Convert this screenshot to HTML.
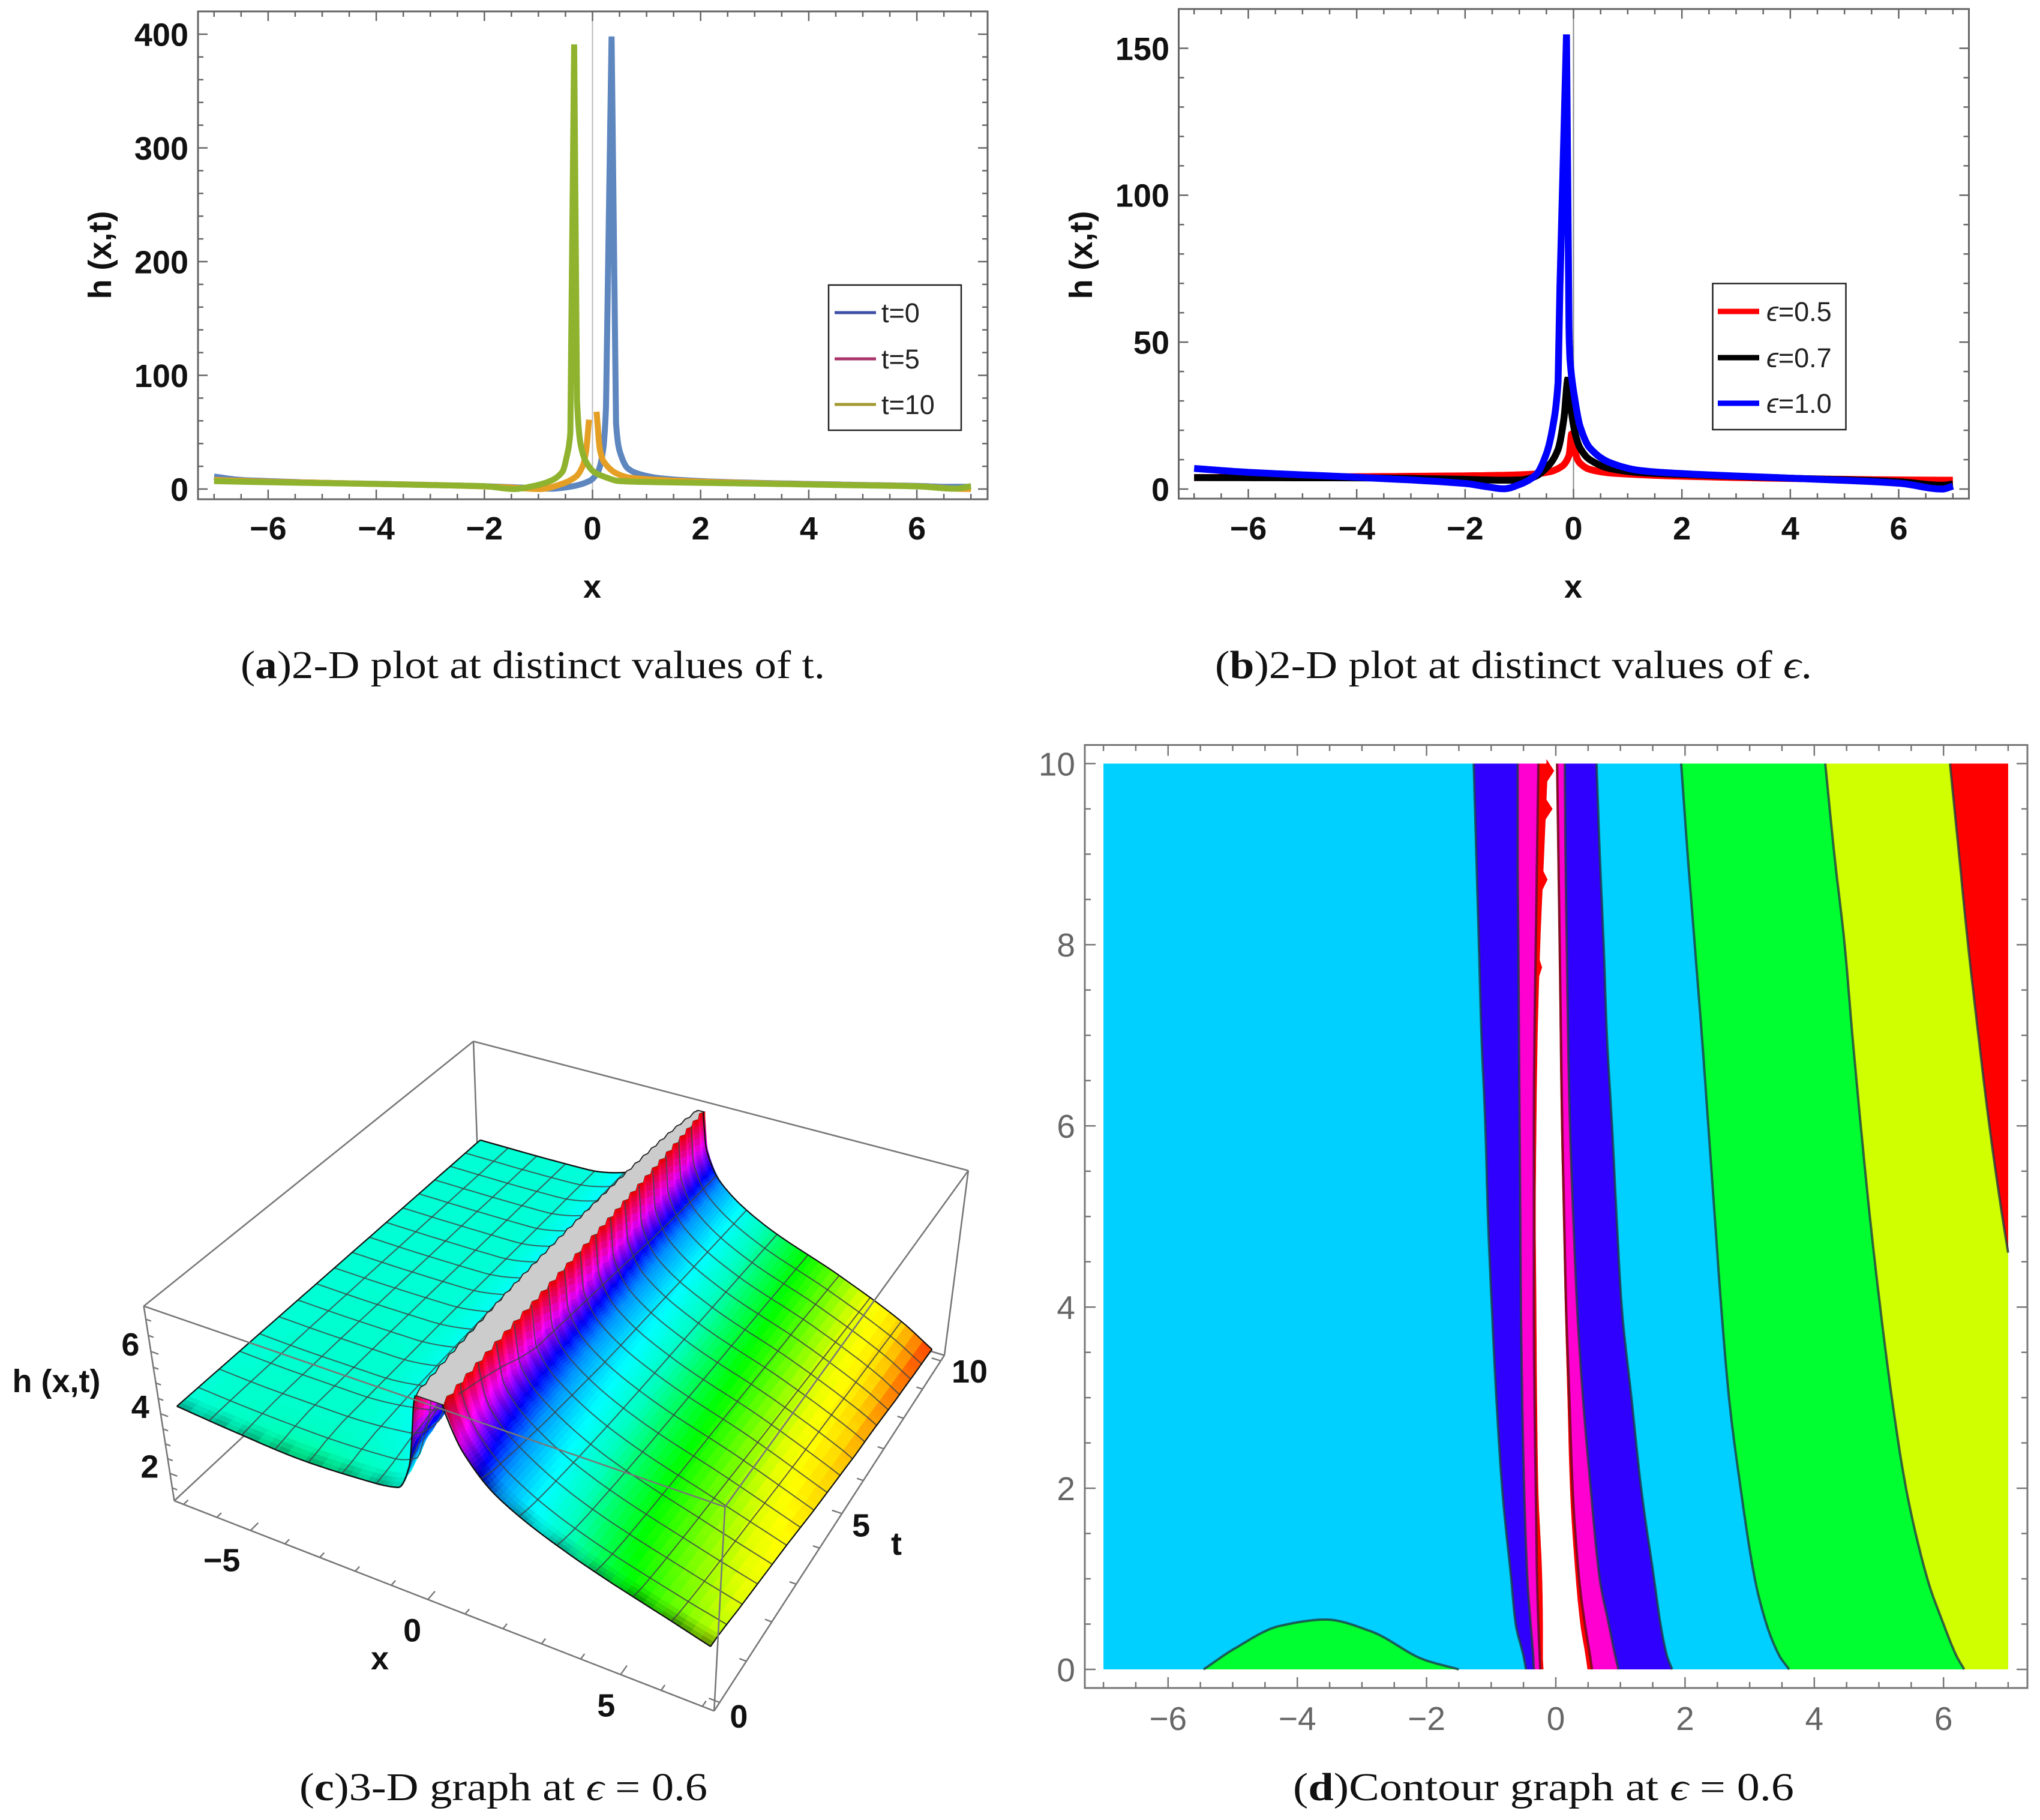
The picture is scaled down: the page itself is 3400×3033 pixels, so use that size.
<!DOCTYPE html>
<html><head><meta charset="utf-8"><title>Soliton solution plots</title>
<style>
html,body{margin:0;padding:0;background:#fff}
svg{display:block}
text{font-family:"Liberation Sans","DejaVu Sans",sans-serif}
.cap{font-family:"Liberation Serif","DejaVu Serif",serif;font-size:66px;fill:#111}
.cap tspan.b{font-weight:bold}
.t2{font-weight:bold;font-size:54px;fill:#111}
.leg{font-size:45px;fill:#222}
</style></head><body>
<svg id="fig" xmlns="http://www.w3.org/2000/svg" width="3400" height="3033" viewBox="0 0 3400 3033">
<rect width="3400" height="3033" fill="#fff"/>
<g id="pa">
  <text class="t2" x="987" y="996" text-anchor="middle">x</text>
  <text class="t2" transform="translate(185,425) rotate(-90)" text-anchor="middle">h (x,t)</text>
</g>
<g id="pb">
  <text class="t2" x="2622" y="996" text-anchor="middle">x</text>
  <text class="t2" transform="translate(1820,425) rotate(-90)" text-anchor="middle">h (x,t)</text>
</g>
<g id="pc"></g>
<g id="pd"></g>
<text class="cap" x="401" y="1130" textLength="974" lengthAdjust="spacingAndGlyphs">(<tspan class="b">a</tspan>)2-D plot at distinct values of t.</text>
<text class="cap" x="2025" y="1130" textLength="995" lengthAdjust="spacingAndGlyphs">(<tspan class="b">b</tspan>)2-D plot at distinct values of <tspan font-style="italic">ϵ</tspan>.</text>
<text class="cap" x="499" y="3000" textLength="680" lengthAdjust="spacingAndGlyphs">(<tspan class="b">c</tspan>)3-D graph at <tspan font-style="italic">ϵ</tspan> = 0.6</text>
<text class="cap" x="2155" y="3000" textLength="835" lengthAdjust="spacingAndGlyphs">(<tspan class="b">d</tspan>)Contour graph at <tspan font-style="italic">ϵ</tspan> = 0.6</text>
</svg>
<script>
/* ---------- panel (a) data ---------- */
const aXt0=[-7,-6.5,-6,-5,-4,-3,-2,-1.16,-.78,-.42,-.06,.1,.195,.25,.353,.435,.505,.657,.88,1.25,2,3,4,5,6,6.5,7];
const aHt0=[11,8,7,5.5,4.6,3.6,2.5,1,.3,2,7,15,34,72,398,58,33,18,13,9.5,7,5.5,4.5,3.6,2.8,2,2];
const aXt5=[-7,-6,-5,-4,-3,-2,-1.4,-.97,-.6,-.305,-.175,-.12,-.064,null,.075,.14,.21,.435,.69,1.25,2,3,4,5,6,6.7,7];
const aHt5=[8,6.5,5.5,4.5,3.6,2.3,1,0,4,11,21,33,61,null,68,34,24,14,10,8,6.5,5.2,4.2,3.4,2.5,.3,0];
const aXt10=[-7,-6,-5,-4,-3,-2,-1.45,-1.16,-.785,-.56,-.47,-.41,-.34,-.286,-.215,-.12,.03,.21,.5,1.25,2,3,4,5,6,6.7,7];
const aHt10=[7,6,5.2,4.5,3.5,2.5,0,2,7,15,30,50,391,78,38,24,15,11,7,6,5.5,4.8,4,3.2,2.4,.3,2.5];
const aLegend=['t=0','t=5','t=10'];
/* ---------- panel (b) data ---------- */
const bXe5=[-7,-4,-2,-1.3,-.8,-.44,-.21,-.083,-.03,.016,.04,.12,.3,.67,1.23,1.96,4,6,7];
const bHe5=[3.9,4.2,4.5,4.7,5,5.9,7.8,11.4,19,19,12,8.8,6.7,5.5,4.9,4.4,3.6,3.1,3];
const bXe7=[-7,-4,-2,-1.3,-.99,-.73,-.47,-.285,-.175,-.1,-.064,.03,.12,.3,.67,1.23,1.96,4,6,6.8,7];
const bHe7=[3.9,3.8,3.3,3,3.1,4.1,7.8,13.5,24.3,37.8,30,19,14,10,7,5.6,5,3.7,2.5,1.3,1.7];
const bXe10=[-7,-6,-4,-2,-1.6,-1.28,-.99,-.69,-.5,-.38,-.285,-.25,-.13,-.083,-.064,.03,.12,.3,.67,1.23,1.96,4,6,6.8,7];
const bHe10=[7,5.7,4,1.9,.8,.1,1.6,4.9,12,21.4,36.4,69,154.7,55,44,30,21.4,14,9,6.3,5.3,3.7,2,0,1];
/* ---------- panel (d) contour boundaries: x position of each level at the t rows ---------- */
const cT=[0,.15,.5,1,2,3,4,5,6,7,8,9,10];
const levelLeft5=[-.46,-.5,-.62,-.69,-.83,-.92,-.99,-1.05,-1.09,-1.15,-1.19,-1.23,-1.27];
const levelLeft6=[-.34,-.35,-.39,-.44,-.49,-.52,-.54,-.55,-.56,-.57,-.58,-.59,-.59];
const levelLeft7=[-.24,-.25,-.27,-.29,-.31,-.33,-.34,-.34,-.34,-.33,-.31,-.29,-.27];
const clipLeft=[-.19,-.2,-.2,-.21,-.27,-.29,-.3,-.31,-.3,-.28,-.24,-.18,-.12];
const clipRight=[.49,.46,.38,.31,.22,.18,.14,.11,.08,.06,.05,.03,.01];
const levelRight7=[.56,.53,.45,.36,.26,.21,.16,.13,.1,.08,.06,.04,.02];
const levelRight6=[.97,.92,.82,.68,.54,.42,.33,.27,.22,.19,.17,.15,.14];
const levelRight5=[1.8,1.72,1.62,1.52,1.32,1.17,1.02,.94,.87,.79,.74,.68,.63];
const levelRight4=[3.61,3.46,3.26,3.08,2.86,2.68,2.56,2.46,2.36,2.26,2.15,2.04,1.94];
const levelRight3=[6.32,6.2,6.0,5.75,5.42,5.2,5.02,4.86,4.72,4.59,4.47,4.31,4.17];
const level2T=[4.6,5,6,7,8,9,10];
const level2X=[7,6.91,6.71,6.54,6.38,6.24,6.1];
const bumpX=[-5.45,-4.97,-4.27,-3.56,-2.86,-2.05,-1.5];
const bumpT=[0,.23,.48,.55,.42,.11,0];
const spikeT=[9.92,9.5,8.72,7.75];
const spikeLen=[.1,.1,.07,.04];
/* ---------- panel (c) surface heights not covered by the contour rows ---------- */
const capLeft3d=[-.19,-.21,-.24,-.28,-.34,-.39,-.42,-.43,-.42,-.4,-.36,-.3,-.17];
const capRight3d=[.49,.48,.45,.42,.38,.35,.31,.27,.23,.18,.13,.07,0];
const hAtRightEnd=[2.75,2.75,2.7,2.6,2.45,2.3,2.1,1.95,1.8,1.7,1.55,1.45,1.35];
const hAtM08=[4.15,4.2,4.35,null,null,null,null,null,null,null,null,null,null];
const hAtM15=[4,4.02,4.1,4.25,4.45,4.55,4.6,4.65,4.7,4.72,4.75,4.78,4.8];
const hAtM35=[3.88,3.9,4,4.08,4.1,4.12,4.14,4.15,4.15,4.15,4.16,4.17,4.18];
const hAtM54=[4,4.02,4.05,4.08,4.1,4.12,4.12,4.13,4.13,4.14,4.14,4.14,4.15];
const hAtM7=[4.15,4.15,4.15,4.15,4.15,4.15,4.15,4.15,4.15,4.15,4.15,4.15,4.15];
const hueZ=[1.2,1.6,2,2.6,3,3.4,4,4.5,5,5.5,6,7.25];
const hueDeg=[0,28,50,66,92,120,165,183,205,245,285,360];
const zTicks=[2,4,6];
const xTicks3d=[-5,0,5];
const tTicks3d=[0,5,10];

const NS='http://www.w3.org/2000/svg';
function mk(tag,parent,attrs){const e=document.createElementNS(NS,tag);for(const k in attrs)e.setAttribute(k,attrs[k]);parent.appendChild(e);return e;}
/* monotone cubic through known points, used only to draw smooth curves between read values */
function mono(xs,ys,x){
  const n=xs.length;
  if(x<=xs[0])return ys[0];
  if(x>=xs[n-1])return ys[n-1];
  let i=0;while(i<n-2&&xs[i+1]<x)i++;
  const s=k=>(ys[k+1]-ys[k])/(xs[k+1]-xs[k]);
  const m=k=>{
    if(k===0)return s(0);
    if(k===n-1)return s(n-2);
    const a=s(k-1),b=s(k);
    return a*b<=0?0:2*a*b/(a+b);
  };
  const h=xs[i+1]-xs[i],u=(x-xs[i])/h,u2=u*u,u3=u2*u;
  return (2*u3-3*u2+1)*ys[i]+(u3-2*u2+u)*h*m(i)+(-2*u3+3*u2)*ys[i+1]+(u3-u2)*h*m(i+1);
}

/* ---------- 2D panels ---------- */
function frame2D(g,c){
  const sx=v=>c.x0+v*c.xu, sy=v=>c.y0-v*c.yu;
  if(c.axisColor){
    const ax=mk('line',g,{x1:sx(0),x2:sx(0),y1:c.top,y2:c.bot,stroke:c.axisColor,'stroke-width':2});
    
    
  }
  for(let i=Math.ceil(c.xmin/c.xminor);i*c.xminor<=c.xmax+1e-9;i++){
    const v=i*c.xminor, maj=Math.abs(v/c.xmajor-Math.round(v/c.xmajor))<1e-6, len=maj?c.majLen:c.minLen;
    for(const [y,d] of [[c.bot,-1],[c.top,1]]){
      const t=mk('line',g,{x1:sx(v),x2:sx(v),y1:y,y2:y+d*len,stroke:c.frame,'stroke-width':2.5});
      
      
    }
    if(maj){
      const l=mk('text',g,{x:sx(v),y:c.xLabY,'text-anchor':'middle','font-size':c.fs,'font-weight':c.fw,fill:c.labFill});
      l.textContent=(v<0?'\u2212':'')+Math.abs(v);
      
      
    }
  }
  for(let i=0;i*c.yminor+c.yfrom<=c.ymax+1e-9;i++){
    const v=i*c.yminor+c.yfrom, maj=Math.abs(v/c.ymajor-Math.round(v/c.ymajor))<1e-6, len=maj?c.majLen:c.minLen;
    for(const [x,d] of [[c.left,1],[c.right,-1]]){
      const t=mk('line',g,{y1:sy(v),y2:sy(v),x1:x,x2:x+d*len,stroke:c.frame,'stroke-width':2.5});
      
      
    }
    if(maj){
      const l=mk('text',g,{x:c.yLabX,y:sy(v)+c.fs*.36,'text-anchor':'end','font-size':c.fs,'font-weight':c.fw,fill:c.labFill});
      l.textContent=String(v);
      
      
    }
  }
  const r=mk('rect',g,{x:c.left,y:c.top,width:c.right-c.left,height:c.bot-c.top,fill:'none',stroke:c.frame,'stroke-width':3});
  
  
  return {sx,sy};
}
function series(g,ax,xs,ys,color,w,name){
  const runs=[];let cur=null;
  xs.forEach((x,i)=>{
    if(x===null||ys[i]===null){cur=null;return;}
    if(!cur){cur={x:[],y:[]};runs.push(cur);}
    cur.x.push(x);cur.y.push(ys[i]);
  });
  let d='';
  runs.forEach(r=>{
    d+='M'+ax.sx(r.x[0]).toFixed(1)+' '+ax.sy(r.y[0]).toFixed(1);
    for(let i=1;i<r.x.length;i++){
      const steep=Math.abs(ax.sy(r.y[i])-ax.sy(r.y[i-1]))>100;
      const n=steep?1:8;
      for(let k=1;k<=n;k++){
        const xv=r.x[i-1]+(r.x[i]-r.x[i-1])*k/n;
        const yv=k===n?r.y[i]:mono(r.x,r.y,xv);
        d+='L'+ax.sx(xv).toFixed(1)+' '+ax.sy(yv).toFixed(1);
      }
    }
  });
  const p=mk('path',g,{d,fill:'none',stroke:color,'stroke-width':w,'stroke-linejoin':'bevel','stroke-linecap':'butt'});
  
  
}
function legend(g,box,lx,tx,ys,colors,labels,w,eps){
  const r=mk('rect',g,{x:box[0],y:box[1],width:box[2],height:box[3],fill:'#fff',stroke:'#222','stroke-width':2.5});
  
  
  labels.forEach((lab,i)=>{
    const l=mk('line',g,{x1:lx[0],x2:lx[1],y1:ys[i],y2:ys[i],stroke:colors[i],'stroke-width':w});
    
    
    const t=mk('text',g,{x:tx,y:ys[i]+16,class:'leg'});
    if(eps){
      const s=mk('tspan',t,{'font-style':'italic'});s.textContent='\u03f5';
      t.appendChild(document.createTextNode(lab));
    } else t.textContent=lab;
    
    
  });
}
const base2D={xminor:.5,xmajor:2,xmin:-7,xmax:7,majLen:16,minLen:9,frame:'#666',fs:54,fw:'bold',labFill:'#111',xLabY:899};
const gA=document.getElementById('pa');
const axA=frame2D(gA,Object.assign({},base2D,{x0:987.5,xu:90.1,y0:815,yu:1.895,left:330,right:1646,top:19,bot:832,yminor:20,ymajor:100,yfrom:0,ymax:400,yLabX:314,axisColor:'#bbb'}));
series(gA,axA,aXt0,aHt0,'#5e86bf',10,'series-t0');
series(gA,axA,aXt5,aHt5,'#e59f24',10,'series-t5');
series(gA,axA,aXt10,aHt10,'#8fb32e',10,'series-t10');
legend(gA,[1381,475,221,242],[1391,1460],1469,[521,598,674],['#3f4fa6','#a8326a','#a39a33'],aLegend,5,false);

const gB=document.getElementById('pb');
const axB=frame2D(gB,Object.assign({},base2D,{x0:2622.5,xu:90.33,y0:815,yu:4.897,left:1964.5,right:3281.5,top:15,bot:831,yminor:10,ymajor:50,yfrom:0,ymax:150,yLabX:1949,axisColor:'#888'}));
series(gB,axB,bXe5,bHe5,'#ff0000',11.5,'series-eps-0-5');
series(gB,axB,bXe7,bHe7,'#000000',11.5,'series-eps-0-7');
series(gB,axB,bXe10,bHe10,'#0000ff',11.5,'series-eps-1-0');
legend(gB,[2854.5,472.5,222,243.5],[2863,2932],2944,[519,596,672],['#ff0000','#000000','#0000ff'],['=0.5','=0.7','=1.0'],9,true);

/* ---------- panel (d) contour ---------- */
const gD=document.getElementById('pd');
const dX0=2593, dXu=107.7, dY0=2782, dYu=150.95;
const dx=v=>dX0+v*dXu, dy=v=>dY0-v*dYu;
const plane=mk('rect',gD,{x:dx(-7),y:dy(10),width:dx(7)-dx(-7),height:dy(0)-dy(10),fill:'#00d0ff'});


const fineT=[];
cT.forEach((t,i)=>{if(i<cT.length-1)for(let k=0;k<8;k++)fineT.push(t+(cT[i+1]-t)*k/8);});
fineT.push(10);
function curve(arr,ts,src){return ts.map(t=>dx(arr===null?7:mono(src,arr,t)).toFixed(1)+','+dy(t).toFixed(1));}
function band(xa,xb,col,name){
  const pts=curve(xa,fineT,cT).concat(curve(xb,fineT,cT).reverse());
  const p=mk('polygon',gD,{points:pts.join(' '),fill:col});
  
  
}
band(levelLeft5,levelLeft6,'#3000ff','contour-band-blue-left');
band(levelLeft6,levelLeft7,'#ff00d0','contour-band-magenta-left');
band(levelLeft7,clipLeft,'#ff0000','contour-band-red-left');
band(clipLeft,clipRight,'#ffffff','contour-clipped-white');
band(clipRight,levelRight7,'#ff0000','contour-band-red-right');
band(levelRight7,levelRight6,'#ff00d0','contour-band-magenta-right');
band(levelRight6,levelRight5,'#3000ff','contour-band-blue-right');
band(levelRight4,levelRight3,'#00ff30','contour-band-green');
band(levelRight3,null,'#d0ff00','contour-band-yellow');
const fineL2=[];for(let i=0;i<=40;i++)fineL2.push(4.6+5.4*i/40);
const fineB=[];for(let i=0;i<=60;i++)fineB.push(bumpX[0]+(bumpX[bumpX.length-1]-bumpX[0])*i/60);
{
  const pts=curve(level2X,fineL2,level2T);
  pts.push(dx(7)+','+dy(10));
  const p=mk('polygon',gD,{points:pts.join(' '),fill:'#ff0000'});
  
  
  const q=mk('polygon',gD,{points:fineB.map(x=>dx(x).toFixed(1)+','+dy(mono(bumpX,bumpT,x)).toFixed(1)).join(' '),fill:'#00ff30'});
  
  
}
spikeT.forEach((t,i)=>{
  const x=mono(cT,clipLeft,t);
  const s=mk('polygon',gD,{points:dx(x-.02)+','+dy(t+.13)+' '+dx(x+spikeLen[i])+','+dy(t)+' '+dx(x-.02)+','+dy(t-.13),fill:'#ff0000'});
  
  
});
function contourLine(pts,col,op){
  const p=mk('polyline',gD,{points:pts.join(' '),fill:'none',stroke:col||'#1f3a44','stroke-opacity':op||.78,'stroke-width':4,'stroke-linejoin':'round'});
  
  
}
[levelLeft5,levelLeft6,levelRight6,levelRight5,levelRight4,levelRight3].forEach(a=>contourLine(curve(a,fineT,cT)));
contourLine(curve(levelLeft7,fineT,cT),'#5a0d2a',.8);
contourLine(curve(levelRight7,fineT,cT),'#7a0a1a',.9);
contourLine(curve(level2X,fineL2,level2T));
contourLine(fineB.map(x=>dx(x).toFixed(1)+','+dy(mono(bumpX,bumpT,x)).toFixed(1)));
frame2D(gD,{x0:dX0,xu:dXu,y0:dY0,yu:dYu,left:1808,right:3379,top:1241.5,bot:2813,xminor:.5,xmajor:2,xmin:-7,xmax:7,yminor:.5,ymajor:2,yfrom:0,ymax:10,majLen:18,minLen:10,frame:'#777',fs:55,fw:'normal',labFill:'#666',xLabY:2883,yLabX:1792,axisColor:null});

/* ---------- panel (c) 3D surface ---------- */
const gC=document.getElementById('pc');
const E=[290.5,2501],H=[1190.2,2851.3],G=[1574,2258.6],A=[239.6,2176.6],B=[788.1,1733.8],C=[1619.5,1951.6],D=[1208.7,2510];
function cross(a,b){return a[0]*b[1]-a[1]*b[0];}
function sub(a,b){return [a[0]-b[0],a[1]-b[1]];}
function inter(p1,p2,p3,p4){const r=sub(p2,p1),s=sub(p4,p3),k=cross(sub(p3,p1),s)/cross(r,s);return [p1[0]+k*r[0],p1[1]+k*r[1]];}
const vpT=inter(A,B,D,C), vpX=inter(A,D,B,C);
const F=inter(E,vpT,G,vpX);
const cam=(function(){
  const r0=[H[0]+F[0]-E[0]-G[0],H[1]+F[1]-E[1]-G[1]], p=sub(H,G), q=sub(F,G);
  const det=p[0]*q[1]-p[1]*q[0];
  const d=(-r0[0]*q[1]+r0[1]*q[0])/det, e=(-p[0]*r0[1]+p[1]*r0[0])/det;
  const ad=sub(A,D);
  const r=[H[0]*(1+d)+A[0]-E[0]-D[0]*(1+d),H[1]*(1+d)+A[1]-E[1]-D[1]*(1+d)];
  const f=-(r[0]*ad[0]+r[1]*ad[1])/(ad[0]*ad[0]+ad[1]*ad[1]);
  const scale=(P,k)=>[P[0]*(1+k)-E[0],P[1]*(1+k)-E[1]];
  return {d,e,f,a:scale(H,d),b:scale(F,e),c:scale(A,f)};
})();
const X0=-7.28,X1=7.28,T0=-.2,T1=10.2,Z0=1.05,Z1=7.4,ZC=7.25;
function proj(x,t,z){
  const u=(x-X0)/(X1-X0),v=(t-T0)/(T1-T0),w=(z-Z0)/(Z1-Z0);
  const den=1+cam.d*u+cam.e*v+cam.f*w;
  return [(E[0]+cam.a[0]*u+cam.b[0]*v+cam.c[0]*w)/den,(E[1]+cam.a[1]*u+cam.b[1]*v+cam.c[1]*w)/den];
}
const fmt=p=>p[0].toFixed(1)+','+p[1].toFixed(1);
function boxLine(p,q,name){
  const l=mk('line',gC,{x1:p[0],y1:p[1],x2:q[0],y2:q[1],stroke:'#777','stroke-width':2.6});
  
  
}
const pA=proj(X0,T0,Z1),pB=proj(X0,T1,Z1),pC=proj(X1,T1,Z1),pD=proj(X1,T0,Z1),pE=proj(X0,T0,Z0),pF=proj(X0,T1,Z0),pG=proj(X1,T1,Z0),pH=proj(X1,T0,Z0);
boxLine(pA,pB,'box-edge-back');boxLine(pB,pC,'box-edge-back');boxLine(pB,pF,'box-edge-back');boxLine(pE,pF,'box-edge-back');boxLine(pF,pG,'box-edge-back');

function rowIndex(t){let i=0;while(i<cT.length-2&&cT[i+1]<t)i++;return i;}
function rightRow(i,x){
  const c=capRight3d[i];
  const xs=[c,Math.max(levelRight7[i],c+.02),Math.max(levelRight6[i],c+.1),Math.max(levelRight5[i],c+.3),levelRight4[i],levelRight3[i]];
  const zs=[ZC,7,6,5,4,3];
  const q=level2T.indexOf(cT[i]);
  if(q>=0&&level2X[q]<7){xs.push(level2X[q]);zs.push(2);}
  xs.push(7.01);zs.push(hAtRightEnd[i]);
  return mono(xs,zs,x);
}
function leftRow(i,x){
  const c=-capLeft3d[i];
  const xs=[c,Math.max(-levelLeft7[i],c+.02),Math.max(-levelLeft6[i],c+.08),-levelLeft5[i]];
  const zs=[ZC,7,6,5];
  if(hAtM08[i]!==null){xs.push(.8);zs.push(hAtM08[i]);}
  xs.push(1.5,3.5,5.4,7.01);
  zs.push(hAtM15[i],hAtM35[i],hAtM54[i],hAtM7[i]);
  return mono(xs,zs,-x);
}
function baseR(t){return mono(cT,capRight3d,t);}
function baseL(t){return mono(cT,capLeft3d,t);}
function rowK(t){const i=rowIndex(t);return [i,Math.min(1,Math.max(0,(t-cT[i])/(cT[i+1]-cT[i])))];}
function hR(d,t){
  if(d<=0)return ZC;
  const [i,k]=rowK(t);
  return Math.min(ZC,rightRow(i,capRight3d[i]+d)*(1-k)+rightRow(i+1,capRight3d[i+1]+d)*k);
}
function hL(d,t){
  if(d<=0)return ZC;
  const [i,k]=rowK(t);
  return Math.min(ZC,leftRow(i,capLeft3d[i]-d)*(1-k)+leftRow(i+1,capLeft3d[i+1]-d)*k);
}
const TEETH=32, NT=96, NL=44, NR=62, SAW_R=.045, SAW_L=.025;
function saw(t,a){
  const f=(t/10*TEETH)%1;
  return f<.66?a-2*a*(f/.66):-a+2*a*((f-.66)/.34);
}
function colour(z,t,extra,x){
  let h=hueDeg[0];
  for(let i=1;i<hueZ.length;i++){if(z<=hueZ[i]){h=hueDeg[i-1]+(hueDeg[i]-hueDeg[i-1])*Math.max(0,z-hueZ[i-1])/(hueZ[i]-hueZ[i-1]);break;}h=hueDeg[i];}
  let L=50+(extra||0);
  if(t<.34){
    const blotch=.09*Math.cos(x*2*Math.PI/.93);
    const corner=x>4.5?.18*(x-4.5)/2.5:0;
    L*=.74-corner+blotch*(1-t/.34)+(.26+corner)*(t/.34);
  }
  return 'hsl('+h.toFixed(0)+',100%,'+L.toFixed(1)+'%)';
}
function quad(pts,col){
  const q=mk('polygon',gC,{points:pts.map(fmt).join(' '),fill:col,stroke:col,'stroke-width':.9});
  
  
}
function meshLine(pts,w){
  const l=mk('polyline',gC,{points:pts.map(fmt).join(' '),fill:'none',stroke:w?'#111':'#3d4345','stroke-width':w||2,'stroke-opacity':w?1:.82,'stroke-linejoin':'round'});
  
  
}
const XCELLS=15,TCELLS=17;
/* left half: far to near */
function leftPoint(i,t){
  const b=baseL(t),d=(b+7)*Math.pow(1-i/NL,2.4);
  const x=b-d+saw(t,SAW_L)*Math.max(0,1-d);
  return [x,d];
}
for(let j=NT-1;j>=0;j--){
  const ta=j*10/NT,tb=(j+1)*10/NT,tm=(ta+tb)/2;
  for(let i=0;i<NL;i++){
    const [xa0,da0]=leftPoint(i,ta),[xb0,db0]=leftPoint(i,tb),[xa1,da1]=leftPoint(i+1,ta),[xb1,db1]=leftPoint(i+1,tb);
    const z00=hL(da0,ta),z01=hL(db0,tb),z10=hL(da1,ta),z11=hL(db1,tb);
    quad([proj(xa0,ta,z00),proj(xa1,ta,z10),proj(xb1,tb,z11),proj(xb0,tb,z01)],colour((z00+z01+z10+z11)/4,tm,0,xa0));
  }
}
for(let k=1;k<TCELLS;k++){
  const t=k*10/TCELLS,pts=[],b=baseL(t);
  for(let i=0;i<=50;i++){const d=(b+7)*Math.pow(1-i/50,2.2);pts.push(proj(b-d,t,hL(d,t)));}
  meshLine(pts);
}
for(let k=1;k<=7;k++){
  const x=-7+14*k/XCELLS,pts=[];
  for(let i=0;i<=40;i++){const t=i/4,d=baseL(t)-x;if(d>0)pts.push(proj(x,t,hL(d,t)));}
  if(pts.length>1)meshLine(pts);
}
{
  const edge=[];
  for(let i=0;i<=40;i++){const t=i/4;edge.push(proj(-7,t,hL(baseL(t)+7,t)));}
  meshLine(edge,2.2);
  const back=[],front=[];
  for(let i=0;i<=60;i++){
    const db=(baseL(10)+7)*Math.pow(1-i/60,2.2);back.push(proj(baseL(10)-db,10,hL(db,10)));
    const df=(baseL(0)+7)*Math.pow(1-i/60,2.2);front.push(proj(baseL(0)-df,0,hL(df,0)));
  }
  meshLine(back,2.4);meshLine(front,2.4);
}
/* clipped cap */
{
  const pts=[];
  for(let j=0;j<=NT;j++){const t=j*10/NT;pts.push(proj(baseL(t)+saw(t,SAW_L),t,ZC));}
  for(let j=NT;j>=0;j--){const t=j*10/NT;pts.push(proj(baseR(t)+saw(t,SAW_R),t,ZC));}
  const p=mk('polygon',gC,{points:pts.map(fmt).join(' '),fill:'#cccccc',stroke:'#222','stroke-width':1.8,'stroke-linejoin':'round'});
  
  
}
/* right half: far to near */
function rightPoint(i,t){
  const b=baseR(t),d=(7-b)*Math.pow(i/NR,2.4);
  const x=b+d+saw(t,SAW_R)*Math.max(0,1-d);
  return [x,d];
}
for(let j=NT-1;j>=0;j--){
  const ta=j*10/NT,tb=(j+1)*10/NT,tm=(ta+tb)/2;
  const f=(tm/10*TEETH)%1;
  for(let i=0;i<NR;i++){
    const [xa0,da0]=rightPoint(i,ta),[xb0,db0]=rightPoint(i,tb),[xa1,da1]=rightPoint(i+1,ta),[xb1,db1]=rightPoint(i+1,tb);
    const z00=hR(da0,ta),z01=hR(db0,tb),z10=hR(da1,ta),z11=hR(db1,tb);
    const za=(z00+z01+z10+z11)/4;
    const rib=za>5.1?(f>.66?-5:1)*Math.min(1,(za-5.1)/.6):0;
    quad([proj(xa0,ta,z00),proj(xa1,ta,z10),proj(xb1,tb,z11),proj(xb0,tb,z01)],colour(za,tm,rib,xa0));
  }
}
for(let k=1;k<TCELLS;k++){
  const t=k*10/TCELLS,pts=[],b=baseR(t);
  for(let i=0;i<=60;i++){const d=(7-b)*Math.pow(i/60,2.2);pts.push(proj(b+d,t,hR(d,t)));}
  meshLine(pts);
}
for(let k=8;k<XCELLS;k++){
  const x=-7+14*k/XCELLS,pts=[];
  for(let i=0;i<=40;i++){const t=i/4,d=x-baseR(t);if(d>0)pts.push(proj(x,t,hR(d,t)));}
  if(pts.length>1)meshLine(pts);
}
{
  const right=[],back=[],front=[];
  for(let i=0;i<=40;i++){const t=i/4;right.push(proj(7,t,hR(7-baseR(t),t)));}
  for(let i=0;i<=60;i++){
    const db=(7-baseR(10))*Math.pow(i/60,2.2);back.push(proj(baseR(10)+db,10,hR(db,10)));
    const df=(7-baseR(0))*Math.pow(i/60,2.2);front.push(proj(baseR(0)+df,0,hR(df,0)));
  }
  meshLine(right,2.2);meshLine(back,2.2);meshLine(front,2.4);
}
boxLine(pA,pD,'box-edge-front');boxLine(pD,pC,'box-edge-front');boxLine(pD,pH,'box-edge-front');boxLine(pC,pG,'box-edge-front');boxLine(pA,pE,'box-edge-front');boxLine(pE,pH,'box-edge-front');boxLine(pH,pG,'box-edge-front');
function tick3(p,q,name){
  const l=mk('line',gC,{x1:p[0],y1:p[1],x2:q[0],y2:q[1],stroke:'#777','stroke-width':2.4});
  
  
}
for(let v=-7;v<=7;v++){const m=v%5===0;tick3(proj(v,T0,Z0),proj(v,T0+(m?.22:.13),Z0),'x-tick-3d');}
for(let v=0;v<=10;v++){const m=v%5===0;tick3(proj(X1,v,Z0),proj(X1-(m?.26:.17),v,Z0),'t-tick-3d');}
for(let v=1.5;v<=7;v+=.5){const m=v%2===0;tick3(proj(X0,T0,v),proj(X0+(m?.22:.15),T0,v),'z-tick-3d');}
function lab3(s,x,y,name){
  const t=mk('text',gC,{x:x,y:y+19,'text-anchor':'middle','font-size':54,'font-weight':'bold',fill:'#111'});
  t.textContent=s;
  
  
}
zTicks.forEach(v=>{const p=proj(X0,T0,v);lab3(String(v),p[0]-34,p[1]-12,'z-tick-label');});
xTicks3d.forEach(v=>{const p=proj(v,T0,Z0);lab3((v<0?'\u2212':'')+Math.abs(v),p[0]+(v<0?-48:v==0?-26:-24),p[1]+(v<0?49:51),'x-tick-label-3d');});
tTicks3d.forEach(v=>{const p=proj(X1,v,Z0);lab3(String(v),p[0]+(v==10?48:32),p[1]+(v==10?17:v==5?19:23),'t-tick-label-3d');});
lab3('x',633,2763,'x-axis-title-3d');
lab3('t',1494,2572,'t-axis-title-3d');
lab3('h (x,t)',94,2301,'z-axis-title-3d');
</script>
</body></html>
